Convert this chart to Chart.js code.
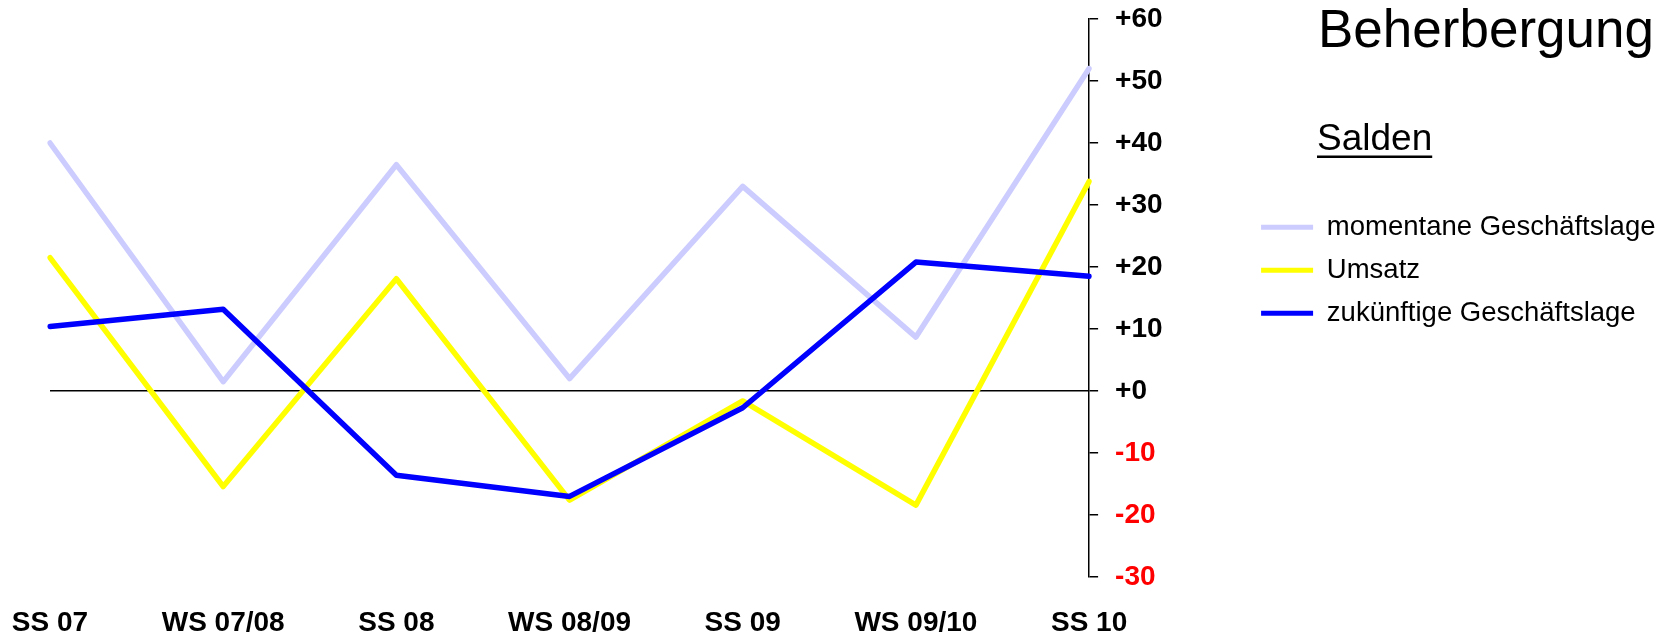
<!DOCTYPE html>
<html>
<head>
<meta charset="utf-8">
<title>Beherbergung</title>
<script src="https://cdn.jsdelivr.net/npm/chart.js@4.4.0/dist/chart.umd.min.js"></script>
<style>
  html, body { margin: 0; padding: 0; background: #fff; }
  #wrap { width: 1671px; height: 637px; }
</style>
</head>
<body>
<div id="wrap"><canvas id="myChart" width="1671" height="637"></canvas></div>
<script>
// Daten (Salden)
const semesters = ['SS 07', 'WS 07/08', 'SS 08', 'WS 08/09', 'SS 09', 'WS 09/10', 'SS 10'];
const momentane = [40, 1.5, 36.5, 2, 33, 8.7, 52];
const umsatz = [21.5, -15.4, 18.1, -17.6, -1.6, -18.4, 33.8];
const zukuenftig = [10.4, 13.2, -13.6, -17, -2.7, 20.8, 18.5];
const seriesNames = ['momentane Geschäftslage', 'Umsatz', 'zukünftige Geschäftslage'];
const yTicks = [-30, -20, -10, 0, 10, 20, 30, 40, 50, 60];
const chartTitle = 'Beherbergung';
const subTitle = 'Salden';

const FONT = "'Liberation Sans', Arial, sans-serif";
Chart.defaults.font.family = FONT;
Chart.defaults.color = '#000';

// Titel + "Salden" rechts oben
const headingPlugin = {
    id: 'heading',
    afterDraw(chart) {
        const ctx = chart.ctx;
        ctx.save();
        ctx.fillStyle = '#000';
        ctx.textAlign = 'left';
        ctx.textBaseline = 'alphabetic';
        ctx.font = '53px ' + FONT;
        ctx.fillText(chartTitle, 1318, 47);
        ctx.font = '37px ' + FONT;
        ctx.fillText(subTitle, 1317, 150);
        const w = ctx.measureText(subTitle).width;
        ctx.fillRect(1317, 155.5, w, 2.5);
        ctx.restore();
    }
};

const ctx = document.getElementById('myChart');

const myChart = new Chart(ctx, {
    type: 'line',
    data: {
        labels: semesters,
        datasets: [
            {
                label: seriesNames[0],
                data: momentane,
                borderColor: '#CCCCFF',
                backgroundColor: '#CCCCFF',
                order: 3
            },
            {
                label: seriesNames[1],
                data: umsatz,
                borderColor: '#FFFF00',
                backgroundColor: '#FFFF00',
                order: 2
            },
            {
                label: seriesNames[2],
                data: zukuenftig,
                borderColor: '#0000FF',
                backgroundColor: '#0000FF',
                order: 1
            }
        ]
    },
    options: {
        responsive: false,
        animation: false,
        devicePixelRatio: 1,
        elements: {
            line: { borderWidth: 5.5, tension: 0, fill: false, borderCapStyle: 'round', borderJoinStyle: 'round' },
            point: { radius: 0, hoverRadius: 0 }
        },
        layout: {
            padding: { left: 50, top: 19, right: 5.5, bottom: 0 }
        },
        scales: {
            x: {
                offset: false,
                grid: { display: false, drawTicks: false },
                border: { display: false },
                afterFit: scale => {
                    scale.height = 60;
                    scale.paddingLeft = 0;
                    scale.paddingRight = 0;
                },
                ticks: {
                    autoSkip: false,
                    maxRotation: 0,
                    padding: 31.2,
                    color: '#000',
                    font: { size: 28, weight: 'bold', lineHeight: 1.1 }
                }
            },
            y: {
                position: 'right',
                min: -30,
                max: 60,
                afterBuildTicks: scale => {
                    scale.ticks = yTicks.map(v => ({ value: v }));
                },
                afterFit: scale => {
                    scale.width = 156.5;
                    scale.paddingTop = 0;
                    scale.paddingBottom = 0;
                },
                grid: {
                    drawOnChartArea: true,
                    color: c => (c.tick && c.tick.value === 0) ? '#000' : 'rgba(0,0,0,0)',
                    tickColor: '#000',
                    lineWidth: 1.5,
                    tickLength: 9
                },
                border: { display: true, color: '#000', width: 1.5 },
                ticks: {
                    padding: 17,
                    color: c => c.tick.value < 0 ? '#FF0000' : '#000',
                    font: { size: 28, weight: 'bold' },
                    callback: v => v > 0 ? '+' + v : (v === 0 ? '+0' : String(v))
                }
            }
        },
        plugins: {
            legend: {
                position: 'right',
                align: 'start',
                maxWidth: 600,
                title: {
                    display: true,
                    text: '',
                    font: { size: 10, lineHeight: 1 },
                    padding: { top: 0, bottom: 169 }
                },
                labels: {
                    boxWidth: 52,
                    boxHeight: 5,
                    padding: 15.5,
                    color: '#000',
                    font: { size: 27.5 },
                    sort: (a, b) => a.datasetIndex - b.datasetIndex,
                    generateLabels: chart => {
                        return Chart.defaults.plugins.legend.labels.generateLabels(chart).map(l => {
                            l.fillStyle = l.strokeStyle;
                            l.lineWidth = 0;
                            return l;
                        });
                    }
                }
            },
            tooltip: { enabled: false }
        }
    },
    plugins: [headingPlugin]
});
</script>
</body>
</html>
